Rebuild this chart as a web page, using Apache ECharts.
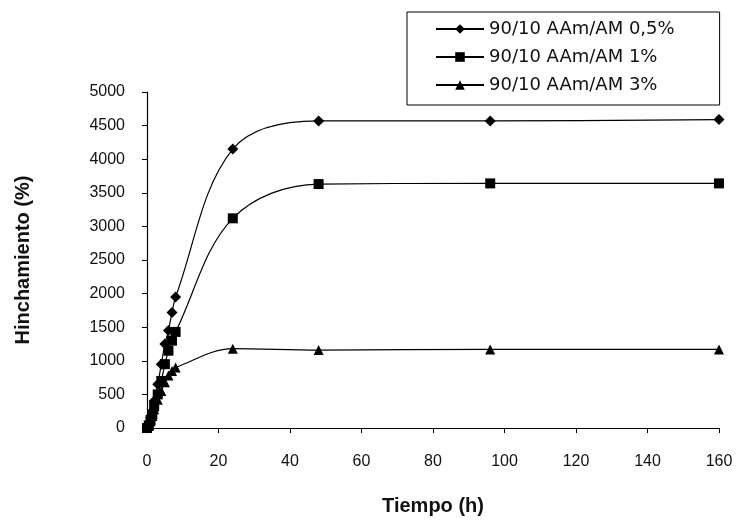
<!DOCTYPE html>
<html>
<head>
<meta charset="utf-8">
<script src="https://cdn.jsdelivr.net/npm/echarts@6/dist/echarts.min.js"></script>
<style>html,body{margin:0;padding:0;background:#fff}#c{width:739px;height:520px}</style>
</head>
<body>
<div id="c"></div>
<script>
var times = [0, 0.5, 1, 1.5, 2, 3, 4, 5, 6, 7, 8, 24, 48, 96, 160];
var s05 = [0, 50, 150, 250, 400, 650, 950, 1250, 1450, 1720, 1950, 4150, 4570, 4570, 4590];
var s1  = [0, 40, 120, 200, 320, 500, 700, 950, 1150, 1300, 1430, 3120, 3630, 3640, 3640];
var s3  = [0, 30, 100, 180, 280, 420, 550, 680, 780, 850, 900, 1180, 1160, 1170, 1170];
var names = ['90/10 AAm/AM 0,5%', '90/10 AAm/AM 1%', '90/10 AAm/AM 3%'];
var xTicks = [0, 20, 40, 60, 80, 100, 120, 140, 160];
var yTicks = [0, 500, 1000, 1500, 2000, 2500, 3000, 3500, 4000, 4500, 5000];

function pairs(v){ return times.map(function(t,i){ return [t, v[i]]; }); }
var FONT = 'Liberation Sans';
function mk(name, data, symbol, size){
  return {
    name: name, type: 'line', data: pairs(data), smooth: 0.35,
    symbol: symbol, symbolSize: size, showAllSymbol: true,
    lineStyle: {color: '#000', width: 1.2},
    itemStyle: {color: '#000'}
  };
}
var chart = echarts.init(document.getElementById('c'));
chart.setOption({
  animation: false,
  backgroundColor: '#fff',
  grid: {left: 147, right: 20, top: 92, bottom: 92, outerBoundsMode: 'none', containLabel: false},
  legend: {
    orient: 'vertical', left: 407, top: 12,
    data: names,
    borderColor: '#000', borderWidth: 1,
    padding: [8, 45, 11, 28],
    itemWidth: 48, itemHeight: 12, itemGap: 10,
    textStyle: {fontFamily: 'DejaVu Sans', fontSize: 18, color: '#111'}
  },
  xAxis: {
    type: 'value', min: xTicks[0], max: xTicks[xTicks.length-1], interval: 20,
    name: 'Tiempo (h)', nameLocation: 'middle', nameGap: 68,
    nameTextStyle: {fontFamily: FONT, fontSize: 20, fontWeight: 'bold', color: '#111'},
    axisLine: {lineStyle: {color: '#000', width: 1.2}},
    axisTick: {inside: false, length: 5, lineStyle: {color: '#000'}},
    axisLabel: {fontFamily: FONT, fontSize: 16, color: '#111', margin: 26,
      formatter: function(v){ return String(v); }},
    splitLine: {show: false}
  },
  yAxis: {
    type: 'value', min: yTicks[0], max: yTicks[yTicks.length-1], interval: 500,
    name: 'Hinchamiento (%)', nameLocation: 'middle', nameGap: 114, nameRotate: 90,
    nameTextStyle: {fontFamily: FONT, fontSize: 20, fontWeight: 'bold', color: '#111'},
    axisLine: {show: true, lineStyle: {color: '#000', width: 1.2}},
    axisTick: {show: true, inside: false, length: 5, lineStyle: {color: '#000'}},
    axisLabel: {fontFamily: FONT, fontSize: 16, color: '#111', margin: 22,
      formatter: function(v){ return String(v); }},
    splitLine: {show: false}
  },
  series: [
    mk(names[0], s05, 'diamond', 11),
    mk(names[1], s1, 'rect', 10),
    mk(names[2], s3, 'triangle', 10)
  ]
});
</script>
</body>
</html>
